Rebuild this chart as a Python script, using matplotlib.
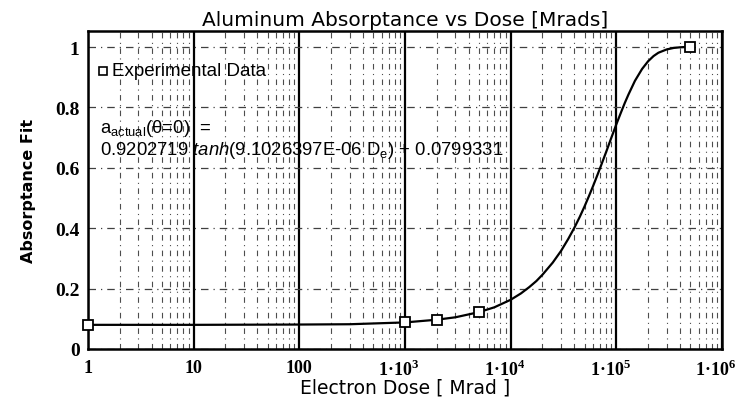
import numpy as np
import matplotlib
matplotlib.use("Agg")
import matplotlib.pyplot as plt
import matplotlib.transforms as mtransforms
from matplotlib.ticker import FixedLocator, FixedFormatter, LogLocator, NullFormatter

# ---- data ----
exp_dose = [1, 1000, 2000, 5000, 500000]
exp_abs = [0.080, 0.088, 0.097, 0.122, 1.000]

curve_dose = [1, 10, 100, 300, 1000, 2000, 3000, 5000, 7000, 10000, 12500, 15000,
              17500, 20000, 25000, 30000, 35000, 40000, 45000, 50000, 55000, 60000,
              65000, 70000, 75000, 80000, 90000, 100000, 110000, 120000, 130000,
              150000, 175000, 200000, 225000, 250000, 300000, 350000, 400000,
              450000, 500000]
curve_abs = [0.080, 0.080, 0.081, 0.082, 0.088, 0.097, 0.105, 0.122, 0.138, 0.163,
             0.184, 0.205, 0.225, 0.246, 0.286, 0.325, 0.364, 0.401, 0.437, 0.472,
             0.506, 0.538, 0.569, 0.598, 0.626, 0.652, 0.701, 0.744, 0.781, 0.814,
             0.842, 0.888, 0.927, 0.953, 0.970, 0.981, 0.992, 0.997, 0.999,
             1.000, 1.000]

x_ticks = [1, 10, 100, 1e3, 1e4, 1e5, 1e6]
x_labels = ["1", "10", "100",
            r"1·10$^{\mathbf{3}}$", r"1·10$^{\mathbf{4}}$",
            r"1·10$^{\mathbf{5}}$", r"1·10$^{\mathbf{6}}$"]
y_ticks = [0, 0.2, 0.4, 0.6, 0.8, 1.0]
y_labels = ["0", "0.2", "0.4", "0.6", "0.8", "1"]

plt.rcParams["mathtext.fontset"] = "custom"
plt.rcParams["mathtext.rm"] = "Liberation Sans"
plt.rcParams["mathtext.it"] = "Liberation Sans:italic"
plt.rcParams["mathtext.bf"] = "Liberation Serif:bold"

fig = plt.figure(figsize=(7.44, 4.02), dpi=100)
ax = fig.add_axes([88/744, 52/402, 634/744, 318/402])

ax.set_xscale("log")
ax.set_xlim(1, 1e6)
ax.set_ylim(0, 1.053)

# grid
ax.xaxis.set_minor_locator(LogLocator(base=10, subs=np.arange(2, 10)))
ax.xaxis.set_minor_formatter(NullFormatter())
ax.grid(which="major", axis="x", color="black", lw=1.6, ls="-")
ax.grid(which="minor", axis="x", color="0.3", lw=0.8, ls=(0, (5, 4, 1, 4)))
ax.grid(which="major", axis="y", color="0.25", lw=0.9, ls=(0, (6, 4, 1, 4)))
ax.set_axisbelow(True)

ax.plot(curve_dose, curve_abs, color="black", lw=1.6, zorder=3)
ax.plot(exp_dose, exp_abs, ls="none", marker="s", ms=7, mfc="white",
        mec="black", mew=1.3, zorder=4, clip_on=False)

ax.xaxis.set_major_locator(FixedLocator(x_ticks))
ax.xaxis.set_major_formatter(FixedFormatter(x_labels))
ax.yaxis.set_major_locator(FixedLocator(y_ticks))
ax.yaxis.set_major_formatter(FixedFormatter(y_labels))
ax.tick_params(axis="both", which="both", length=0)
ax.tick_params(axis="x", pad=7)
ax.tick_params(axis="y", pad=6)
for lab in ax.get_yticklabels():
    lab.set_fontfamily("Liberation Serif")
    lab.set_fontweight("bold")
    lab.set_fontsize(14)
shift = mtransforms.ScaledTranslation(-6/100, 0, fig.dpi_scale_trans)
for i, lab in enumerate(ax.get_xticklabels()):
    lab.set_fontfamily("Liberation Serif")
    lab.set_fontweight("bold")
    lab.set_fontsize(13)
for i, tick in enumerate(ax.xaxis.get_major_ticks()):
    if i >= 3:
        tick.label1.set_transform(tick.label1.get_transform() + shift)

for s in ax.spines.values():
    s.set_linewidth(1.8)
    s.set_color("black")

ax.set_title("Aluminum Absorptance vs Dose [Mrads]", fontsize=14.5, pad=4,
             family="DejaVu Sans")
ax.set_xlabel("Electron Dose [ Mrad ]", fontsize=13.5, labelpad=-1,
              family="DejaVu Sans")
ax.set_ylabel("Absorptance Fit", fontsize=11.5, fontweight="bold", labelpad=14,
              family="DejaVu Sans")

# legend-like text and equation
ax.plot([0.024], [0.875], transform=ax.transAxes, marker="s", ms=6,
        mfc="white", mec="black", mew=1.2, ls="none", zorder=5)
ax.text(0.038, 0.875, "Experimental Data", transform=ax.transAxes,
        fontsize=13.5, va="center", ha="left", family="Liberation Sans")
ax.text(0.019, 0.698, r"a$_{\mathrm{actual}}$(θ=0)  =", transform=ax.transAxes,
        fontsize=13.3, va="center", ha="left", family="Liberation Sans")
ax.text(0.019, 0.628,
        r"0.9202719 $\mathit{tanh}$(9.1026397E-06 D$_{\mathrm{e}}$) + 0.0799331",
        transform=ax.transAxes, fontsize=13.3, va="center", ha="left",
        family="Liberation Sans")

fig.savefig("out.png", dpi=100)
